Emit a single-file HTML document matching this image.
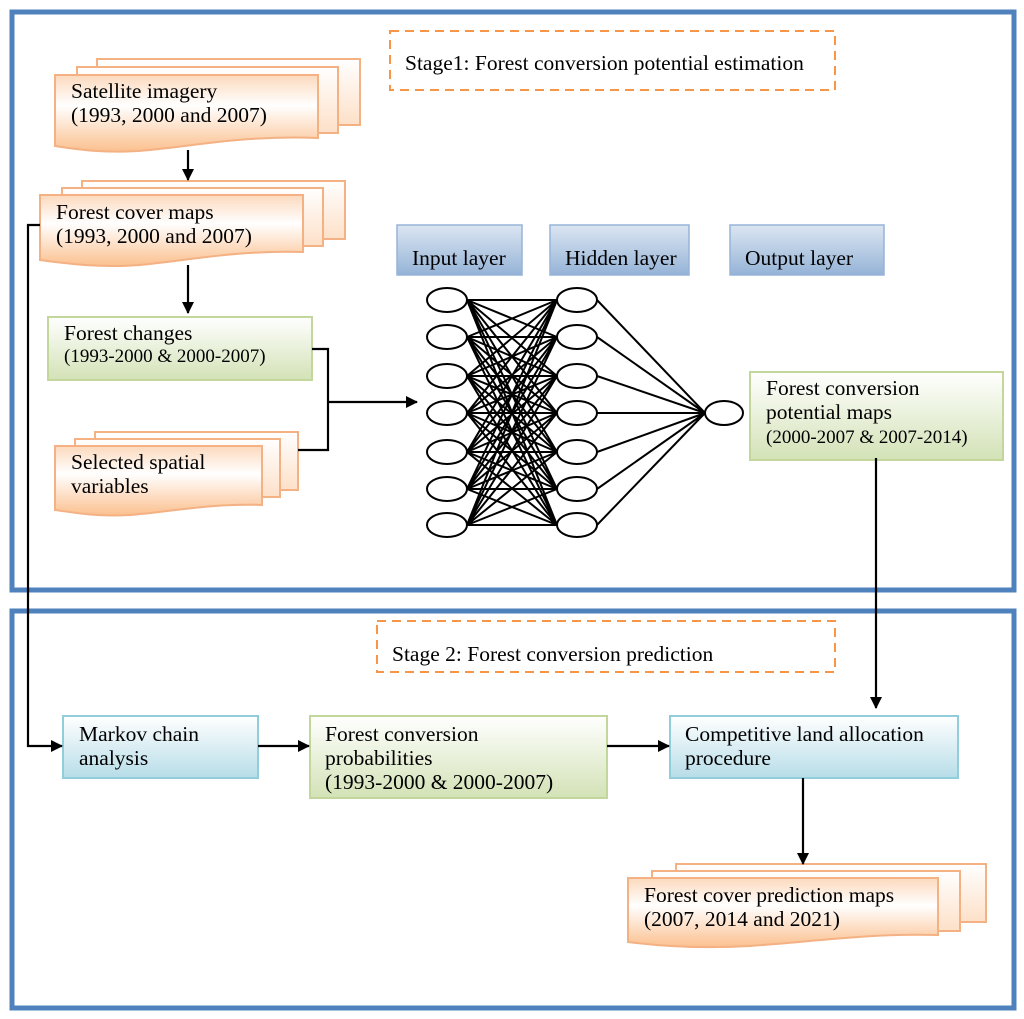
<!DOCTYPE html>
<html><head><meta charset="utf-8"><style>body{margin:0;background:#fff}svg{display:block}text{font-family:"Liberation Serif",serif;font-size:21.5px;fill:#000}</style></head><body>
<svg width="1024" height="1019" viewBox="0 0 1024 1019" xmlns="http://www.w3.org/2000/svg">
<defs>
<linearGradient id="og" x1="0" y1="0" x2="0" y2="1"><stop offset="0" stop-color="#fcd9bd"/><stop offset="0.4" stop-color="#fff"/><stop offset="1" stop-color="#fbc08e"/></linearGradient>
<linearGradient id="og2" x1="0" y1="0" x2="0" y2="1"><stop offset="0" stop-color="#fff"/><stop offset="1" stop-color="#fde0c8"/></linearGradient>
<linearGradient id="gg" x1="0" y1="0" x2="0" y2="1"><stop offset="0" stop-color="#fff"/><stop offset="1" stop-color="#d3e2b6"/></linearGradient>
<linearGradient id="bg" x1="0" y1="0" x2="0" y2="1"><stop offset="0" stop-color="#dce6f2"/><stop offset="1" stop-color="#95b3d7"/></linearGradient>
<linearGradient id="cg" x1="0" y1="0" x2="0" y2="1"><stop offset="0" stop-color="#fff"/><stop offset="1" stop-color="#b7dde8"/></linearGradient>
<marker id="a" markerWidth="12" markerHeight="12" refX="11" refY="6" orient="auto" markerUnits="userSpaceOnUse"><path d="M0,0 L12,6 L0,12z" fill="#000"/></marker>
</defs>
<rect x="12" y="12" width="1002" height="578" fill="none" stroke="#4f81bd" stroke-width="5"/>
<rect x="12" y="611" width="1002" height="397" fill="none" stroke="#4f81bd" stroke-width="5"/>
<rect x="390" y="31" width="445" height="59" fill="#fff" stroke="#f79646" stroke-width="2" stroke-dasharray="9,6"/>
<text x="405" y="70">Stage1: Forest conversion potential estimation</text>
<rect x="377" y="621" width="458" height="51" fill="#fff" stroke="#f79646" stroke-width="2" stroke-dasharray="9,6"/>
<text x="392" y="661">Stage 2: Forest conversion prediction</text>

<g stroke="#f4b183" stroke-width="2">
<rect x="97" y="59" width="263" height="66" fill="url(#og2)"/>
<rect x="77" y="67" width="261" height="66" fill="url(#og2)"/>
<path d="M55,75 H318 V138 C250,135 200,145 150,150 C110,154 80,150 55,146 Z" fill="url(#og)"/>
<rect x="82" y="181" width="263" height="58" fill="url(#og2)"/>
<rect x="62" y="188" width="261" height="58" fill="url(#og2)"/>
<path d="M40,195 H303 V252 C240,250 190,260 140,265 C100,268 70,264 40,260 Z" fill="url(#og)"/>
<rect x="95" y="432" width="203" height="58" fill="url(#og2)"/>
<rect x="75" y="439" width="205" height="58" fill="url(#og2)"/>
<path d="M55,446 H262 V505 C210,503 170,512 130,515 C100,517 75,513 55,510 Z" fill="url(#og)"/>
<rect x="676" y="864" width="310" height="58" fill="url(#og2)"/>
<rect x="652" y="871" width="308" height="60" fill="url(#og2)"/>
<path d="M628,878 H938 V935 C870,933 810,942 750,946 C700,949 660,946 628,942 Z" fill="url(#og)"/>
</g>
<rect x="48" y="317" width="264" height="63" fill="url(#gg)" stroke="#c3d69b" stroke-width="2"/>
<rect x="750" y="372" width="253" height="88" fill="url(#gg)" stroke="#c3d69b" stroke-width="2"/>
<rect x="310" y="716" width="297" height="82" fill="url(#gg)" stroke="#c3d69b" stroke-width="2"/>
<rect x="63" y="716" width="195" height="62" fill="url(#cg)" stroke="#92cddc" stroke-width="2"/>
<rect x="670" y="716" width="288" height="62" fill="url(#cg)" stroke="#92cddc" stroke-width="2"/>
<g stroke="#95b3d7" stroke-width="1.5">
<rect x="397" y="225" width="125" height="50" fill="url(#bg)"/>
<rect x="550" y="225" width="139" height="50" fill="url(#bg)"/>
<rect x="730" y="225" width="154" height="50" fill="url(#bg)"/>
</g>
<text x="71" y="98">Satellite imagery</text><text x="71" y="122">(1993, 2000 and 2007)</text>
<text x="56" y="219">Forest cover maps</text><text x="56" y="243">(1993, 2000 and 2007)</text>
<text x="64" y="340">Forest changes</text><text x="64" y="362" style="font-size:19px">(1993-2000 &amp; 2000-2007)</text>
<text x="71" y="469">Selected spatial</text><text x="71" y="493">variables</text>
<text x="412" y="265">Input layer</text><text x="565" y="265">Hidden layer</text><text x="745" y="265">Output layer</text>
<text x="766" y="395">Forest conversion</text><text x="766" y="419">potential maps</text><text x="766" y="443" style="font-size:19px">(2000-2007 &amp; 2007-2014)</text>
<text x="79" y="741">Markov chain</text><text x="79" y="765">analysis</text>
<text x="325" y="741">Forest conversion</text><text x="325" y="765">probabilities</text><text x="325" y="789">(1993-2000 &amp; 2000-2007)</text>
<text x="685" y="741">Competitive land allocation</text><text x="685" y="765">procedure</text>
<text x="644" y="902">Forest cover prediction maps</text><text x="644" y="926">(2007, 2014 and 2021)</text>

<g stroke="#000" stroke-width="2.2" fill="none">
<path d="M188,150 V180" marker-end="url(#a)"/>
<path d="M188,265 V313" marker-end="url(#a)"/>
<path d="M312,349 H328 V450 H298"/>
<path d="M328,402 H417" marker-end="url(#a)"/>
<path d="M40,225 H28 V746 H62" marker-end="url(#a)"/>
<path d="M258,746 H309" marker-end="url(#a)"/>
<path d="M607,746 H669" marker-end="url(#a)"/>
<path d="M876,458 V708" marker-end="url(#a)"/>
<path d="M803,778 V864" marker-end="url(#a)"/>
</g>
<g stroke="#000" stroke-width="2" fill="none">
<path d="M467,300 L557,300 M467,300 L557,337 M467,300 L557,376 M467,300 L557,413 M467,300 L557,452 M467,300 L557,489 M467,300 L557,525
M467,337 L557,300 M467,337 L557,337 M467,337 L557,376 M467,337 L557,413 M467,337 L557,452 M467,337 L557,489 M467,337 L557,525
M467,376 L557,300 M467,376 L557,337 M467,376 L557,376 M467,376 L557,413 M467,376 L557,452 M467,376 L557,489 M467,376 L557,525
M467,413 L557,300 M467,413 L557,337 M467,413 L557,376 M467,413 L557,413 M467,413 L557,452 M467,413 L557,489 M467,413 L557,525
M467,452 L557,300 M467,452 L557,337 M467,452 L557,376 M467,452 L557,413 M467,452 L557,452 M467,452 L557,489 M467,452 L557,525
M467,489 L557,300 M467,489 L557,337 M467,489 L557,376 M467,489 L557,413 M467,489 L557,452 M467,489 L557,489 M467,489 L557,525
M467,525 L557,300 M467,525 L557,337 M467,525 L557,376 M467,525 L557,413 M467,525 L557,452 M467,525 L557,489 M467,525 L557,525
M597,300 L705,413 M597,337 L705,413 M597,376 L705,413 M597,413 L705,413 M597,452 L705,413 M597,489 L705,413 M597,525 L705,413"/>
</g>
<g stroke="#000" stroke-width="2" fill="#fff">
<ellipse cx="447" cy="300" rx="20" ry="12"/><ellipse cx="447" cy="337" rx="20" ry="12"/><ellipse cx="447" cy="376" rx="20" ry="12"/><ellipse cx="447" cy="413" rx="20" ry="12"/><ellipse cx="447" cy="452" rx="20" ry="12"/><ellipse cx="447" cy="489" rx="20" ry="12"/><ellipse cx="447" cy="525" rx="20" ry="12"/>
<ellipse cx="577" cy="300" rx="20" ry="12"/><ellipse cx="577" cy="337" rx="20" ry="12"/><ellipse cx="577" cy="376" rx="20" ry="12"/><ellipse cx="577" cy="413" rx="20" ry="12"/><ellipse cx="577" cy="452" rx="20" ry="12"/><ellipse cx="577" cy="489" rx="20" ry="12"/><ellipse cx="577" cy="525" rx="20" ry="12"/>
<ellipse cx="724" cy="413" rx="19" ry="12"/>
</g>
</svg>
</body></html>
